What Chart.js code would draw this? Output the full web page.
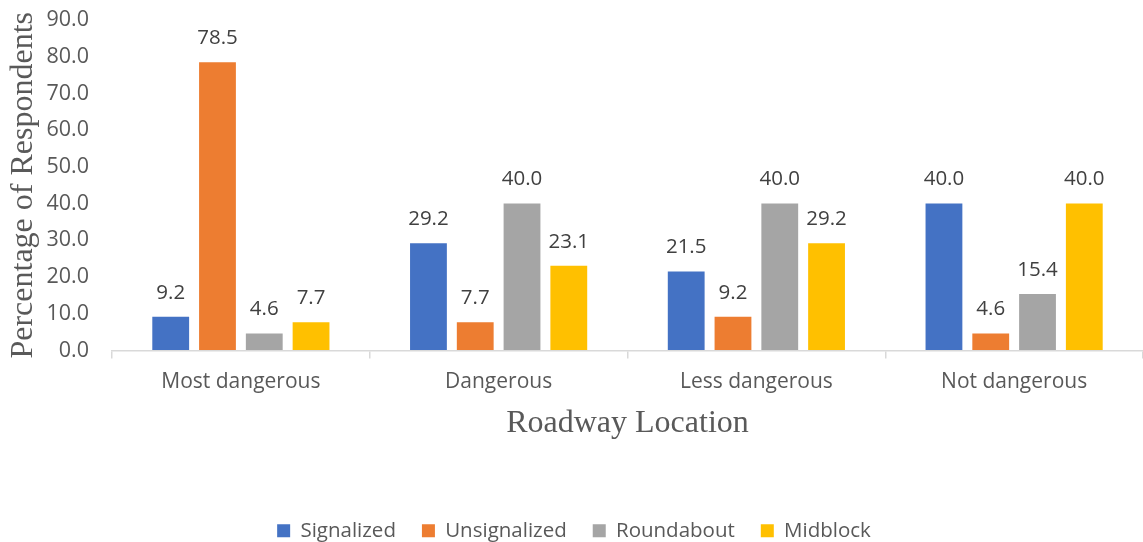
<!DOCTYPE html>
<html>
<head>
<meta charset="utf-8">
<script src="https://cdn.jsdelivr.net/npm/chart.js@4/dist/chart.umd.min.js"></script>
<style>
html,body{margin:0;padding:0;background:#fff;}
#wrap{width:1143px;height:542px;position:relative;}
</style>
</head>
<body>
<div id="wrap"><canvas id="c" width="1143" height="542"></canvas></div>
<script>
const categories = ["Most dangerous", "Dangerous", "Less dangerous", "Not dangerous"];
const signalized = [9.2, 29.2, 21.5, 40.0];
const unsignalized = [78.5, 7.7, 9.2, 4.6];
const roundabout = [4.6, 40.0, 40.0, 15.4];
const midblock = [7.7, 23.1, 29.2, 40.0];
const seriesNames = ["Signalized", "Unsignalized", "Roundabout", "Midblock"];
const yTicks = [0, 10, 20, 30, 40, 50, 60, 70, 80, 90];

const colors = ["#4472C4", "#ED7D31", "#A5A5A5", "#FFC000"];
const sansFont = "'Open Sans', sans-serif";
const serifFont = "'Liberation Serif', 'Times New Roman', serif";

const valueLabels = {
  id: 'valueLabels',
  afterDatasetsDraw(chart) {
    const ctx = chart.ctx;
    ctx.save();
    ctx.font = "20.5px " + sansFont;
    ctx.fillStyle = "#404040";
    ctx.textAlign = "center";
    ctx.textBaseline = "middle";
    chart.data.datasets.forEach((ds, i) => {
      const meta = chart.getDatasetMeta(i);
      meta.data.forEach((bar, j) => {
        ctx.fillText(ds.data[j].toFixed(1), bar.x, bar.y - 24);
      });
    });
    ctx.restore();
  }
};

new Chart(document.getElementById('c'), {
  type: 'bar',
  data: {
    labels: categories,
    datasets: [signalized, unsignalized, roundabout, midblock].map((d, i) => ({
      label: seriesNames[i],
      data: d,
      backgroundColor: colors[i],
      borderWidth: 0,
      categoryPercentage: 0.726,
      barPercentage: 0.787
    }))
  },
  options: {
    responsive: false,
    animation: false,
    devicePixelRatio: 1,
    layout: { padding: { top: 20, right: -5, left: 0, bottom: -9 } },
    plugins: {
      legend: {
        position: 'bottom',
        labels: {
          boxWidth: 13, boxHeight: 13, padding: 26,
          color: "#595959",
          font: { family: sansFont, size: 20.5 }
        }
      },
      tooltip: { enabled: false }
    },
    scales: {
      x: {
        grid: { offset: true, drawOnChartArea: false, drawTicks: true, tickLength: 8, color: "#D9D9D9", lineWidth: 1.5 },
        border: { color: "#D9D9D9", width: 1.5 },
        ticks: { color: "#595959", font: { family: sansFont, size: 21 }, padding: 11 },
        title: { display: true, text: "Roadway Location", color: "#595959", font: { family: serifFont, size: 32 }, padding: { top: 14, bottom: 52 } },
        afterFit(scale) { scale.height = 144; }
      },
      y: {
        min: 0, max: 90,
        afterBuildTicks(scale) { scale.ticks = yTicks.map(v => ({ value: v })); },
        grid: { display: true, drawOnChartArea: false, drawTicks: true, tickLength: 21, color: "rgba(0,0,0,0)" },
        border: { display: false },
        ticks: { color: "#595959", font: { family: sansFont, size: 21.5 }, padding: 2, callback: v => Number(v).toFixed(1) },
        title: { display: true, text: "Percentage of Respondents", color: "#595959", font: { family: serifFont, size: 32 }, padding: { top: 4, bottom: 0 } },
        afterFit(scale) { scale.width = 112; }
      }
    }
  },
  plugins: [valueLabels]
});
</script>
</body>
</html>
